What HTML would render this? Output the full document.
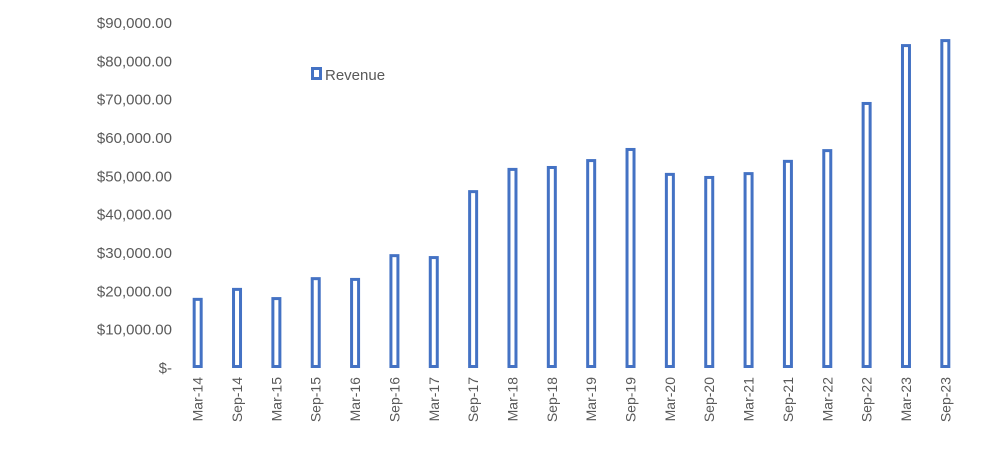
<!DOCTYPE html>
<html><head><style>body{margin:0;background:#fff}svg{display:block;font-family:"Liberation Sans",sans-serif}</style></head>
<body>
<svg id="chart" width="983" height="450" xmlns="http://www.w3.org/2000/svg">
<g id="yaxis"></g>
<g id="bars"></g>
<g id="xaxis"></g>
<g>
<rect x="312.5" y="68.5" width="8" height="10" fill="#fff" stroke="#4472C4" stroke-width="3"/>
<text x="325" y="80" font-size="15" fill="#595959">Revenue</text>
</g>
</svg>
<script>
const categories=["Mar-14","Sep-14","Mar-15","Sep-15","Mar-16","Sep-16","Mar-17","Sep-17","Mar-18","Sep-18","Mar-19","Sep-19","Mar-20","Sep-20","Mar-21","Sep-21","Mar-22","Sep-22","Mar-23","Sep-23"];
const revenue=[18300,20900,18500,23700,23500,29700,29200,46400,52200,52700,54500,57400,50900,50100,51100,54300,57100,69400,84500,85800];
const yTicks=[0,10000,20000,30000,40000,50000,60000,70000,80000,90000];
const yTickLabels=["$-","$10,000.00","$20,000.00","$30,000.00","$40,000.00","$50,000.00","$60,000.00","$70,000.00","$80,000.00","$90,000.00"];
const NS="http://www.w3.org/2000/svg";
const y0=368,yTop=23,maxV=90000,x0=178,step=39.35;
function yS(v){return y0-(v/maxV)*(y0-yTop);}
function xS(i){return x0+step*(i+0.5);}
const ya=document.getElementById('yaxis'),ba=document.getElementById('bars'),xa=document.getElementById('xaxis');
yTicks.forEach((t,i)=>{
const el=document.createElementNS(NS,'text');


el.setAttribute('x',172);el.setAttribute('y',yS(t)+5);
el.setAttribute('text-anchor','end');el.setAttribute('font-size','15');el.setAttribute('fill','#595959');
el.textContent=yTickLabels[i];ya.appendChild(el);
});
revenue.forEach((v,i)=>{
const r=document.createElementNS(NS,'rect');


r.setAttribute('x',xS(i)-3.5);r.setAttribute('y',yS(v)+1.5);
r.setAttribute('width',7);r.setAttribute('height',Math.max(0,y0-yS(v)-3));
r.setAttribute('fill','#fff');r.setAttribute('stroke','#4472C4');r.setAttribute('stroke-width','3');
ba.appendChild(r);
});
categories.forEach((c,i)=>{
const el=document.createElementNS(NS,'text');


const x=xS(i)+5,y=377;
el.setAttribute('x',x);el.setAttribute('y',y);
el.setAttribute('transform','rotate(-90 '+x+' '+y+')');
el.setAttribute('text-anchor','end');el.setAttribute('font-size','14');el.setAttribute('fill','#595959');
el.textContent=c;xa.appendChild(el);
});
</script>
</body></html>
